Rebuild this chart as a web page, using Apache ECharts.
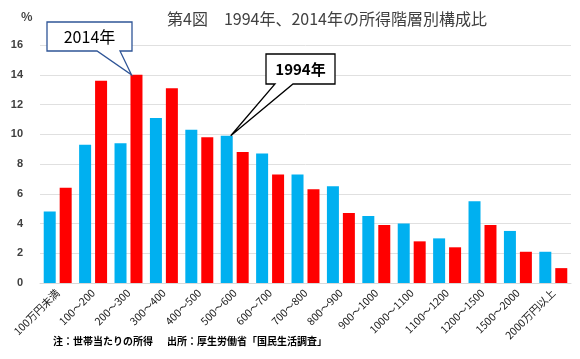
<!DOCTYPE html>
<html>
<head>
<meta charset="utf-8">
<script src="https://cdn.jsdelivr.net/npm/echarts@6/dist/echarts.min.js"></script>
<style>
html,body{margin:0;padding:0;background:#fff;}
#c{width:580px;height:359px;}
</style>
</head>
<body>
<div id="c"></div>
<script>
var categories = ['100万円未満','100～200','200～300','300～400','400～500','500～600','600～700','700～800','800～900','900～1000','1000～1100','1100～1200','1200～1500','1500～2000','2000万円以上'];
var values1994 = [4.8, 9.3, 9.4, 11.1, 10.3, 9.9, 8.7, 7.3, 6.5, 4.5, 4.0, 3.0, 5.5, 3.5, 2.1];
var values2014 = [6.4, 13.6, 14.0, 13.1, 9.8, 8.8, 7.3, 6.3, 4.7, 3.9, 2.8, 2.4, 3.9, 2.1, 1.0];
var yTicks = [0, 2, 4, 6, 8, 10, 12, 14, 16];
var titleText = '第4図　1994年、2014年の所得階層別構成比';
var noteText1 = '注：世帯当たりの所得';
var noteText2 = '出所：厚生労働省「国民生活調査」';

var FONT = '"Noto Sans CJK JP", "Noto Sans", sans-serif';
var chart = echarts.init(document.getElementById('c'));
var option = {
  animation: false,
  backgroundColor: '#fff',
  textStyle: {fontFamily: FONT},
  title: {
    text: titleText, left: 322, top: 6, textAlign: 'center',
    textStyle: {fontFamily: FONT, fontSize: 16, fontWeight: 'normal', color: '#404040'}
  },
  grid: {left: 40, right: 9, top: 45, bottom: 76, containLabel: false},
  xAxis: {
    type: 'category', data: categories,
    axisLine: {lineStyle: {color: '#d9d9d9', width: 1}},
    axisTick: {show: false},
    axisLabel: {interval: 0, rotate: 45, margin: 8, fontSize: 10.5, color: '#1a1a1a', fontFamily: FONT}
  },
  yAxis: {
    type: 'value', min: yTicks[0], max: yTicks[yTicks.length - 1], interval: yTicks[1] - yTicks[0],
    axisLine: {show: false}, axisTick: {show: false},
    splitLine: {lineStyle: {color: '#e0e0e0', width: 1}},
    axisLabel: {fontSize: 11, fontWeight: 'bold', color: '#404040', margin: 17, fontFamily: 'Liberation Sans, Arial, sans-serif'}
  },
  series: [
    {name: '1994年', type: 'bar', data: values1994, barWidth: 12, barGap: '33%',
     itemStyle: {color: '#00b0f0'}},
    {name: '2014年', type: 'bar', data: values2014, barWidth: 12,
     itemStyle: {color: '#ff0000'}}
  ]
};
chart.setOption(option);

function topLeft(s, i) {
  var lay = chart.getModel().getSeriesByIndex(s).getData().getItemLayout(i);
  var x0 = Math.min(lay.x, lay.x + lay.width), y0 = Math.min(lay.y, lay.y + lay.height);
  return [x0, y0, Math.abs(lay.width)];
}
var a = topLeft(1, 2), b = topLeft(0, 5);
var tipA = [a[0] + 1, a[1]];
var tipB = [b[0] + b[2] - 2, b[1]];

chart.setOption({
  graphic: [
    {type: 'text', left: 21, top: 10, style: {text: '%', fontSize: 12, fontWeight: 'bold', fill: '#404040', fontFamily: FONT}},
    {type: 'polygon', z: 100, shape: {points: [[47,22],[132,22],[132,51],[120,51],tipA,[97,51],[47,51]]},
     style: {fill: '#fff', stroke: '#2f5597', lineWidth: 1.3}},
    {type: 'text', z: 101, x: 89.5, y: 37, style: {text: '2014年', fontSize: 16, fill: '#000', fontFamily: FONT, align: 'center', verticalAlign: 'middle'}},
    {type: 'polygon', z: 100, shape: {points: [[266,54],[335,54],[335,84],[293,84],tipB,[275,84],[266,84]]},
     style: {fill: '#fff', stroke: '#000', lineWidth: 1.3}},
    {type: 'text', z: 101, x: 300.5, y: 69, style: {text: '1994年', fontSize: 15, fontWeight: 'bold', fill: '#000', fontFamily: FONT, align: 'center', verticalAlign: 'middle'}},
    {type: 'text', left: 53, top: 336, style: {text: noteText1, fontSize: 10, fontWeight: 'bold', fill: '#000', fontFamily: FONT}},
    {type: 'text', left: 167, top: 336, style: {text: noteText2, fontSize: 10, fontWeight: 'bold', fill: '#000', fontFamily: FONT}}
  ]
});
</script>
</body>
</html>
